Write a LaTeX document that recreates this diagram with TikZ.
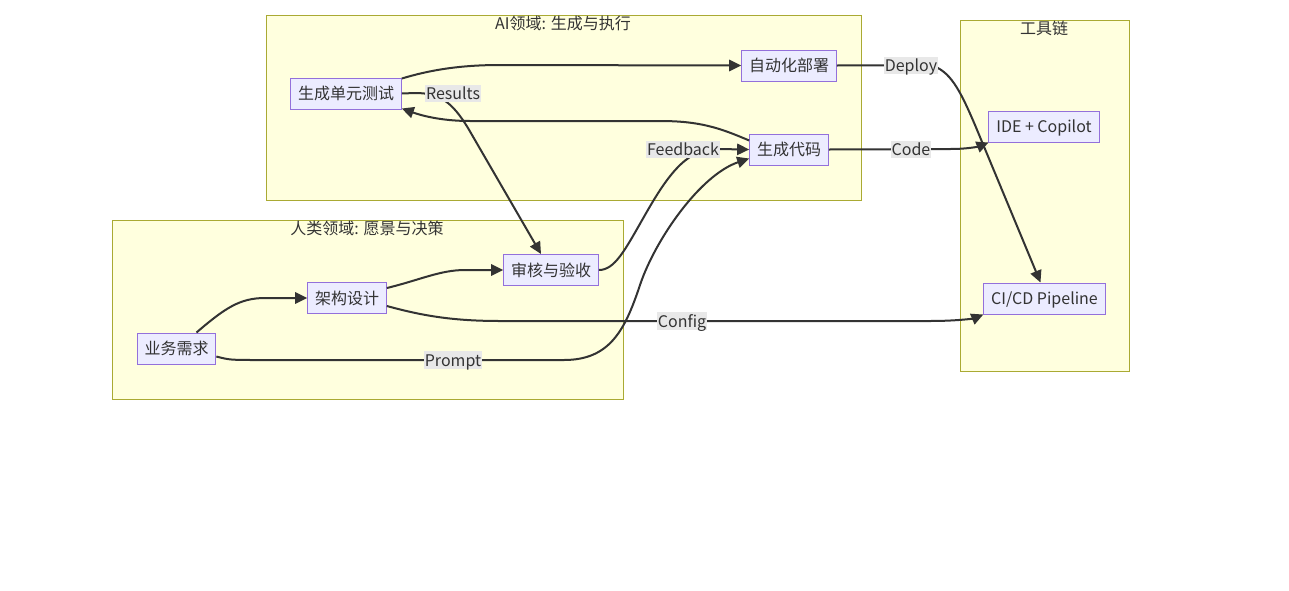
\documentclass[tikz,border=0pt]{standalone}
\usepackage{fontspec}
\setmainfont{Noto Sans CJK SC}
\usetikzlibrary{arrows.meta,calc}
\definecolor{clfill}{HTML}{FFFFDE}
\definecolor{cldraw}{HTML}{AAAA33}
\definecolor{nfill}{HTML}{ECECFF}
\definecolor{ndraw}{HTML}{9370DB}
\definecolor{ink}{HTML}{333333}
\definecolor{lblbg}{HTML}{E8E8E8}
\tikzset{
  box/.style={draw=ndraw, fill=nfill, line width=0.75pt, minimum height=23.25pt, inner xsep=5.5pt, text height=11pt, text depth=2pt, text=ink},
  cluster/.style={draw=cldraw, fill=clfill, line width=0.75pt},
  ctitle/.style={text=ink},
  elabel/.style={fill=lblbg, inner sep=0.5pt, text height=10.5pt, text depth=1.5pt, text=ink},
  link/.style={draw=ink, line width=1.5pt, ->},
}

\begin{document}
\begin{tikzpicture}[x=0.75pt, y=-0.75pt, >={Triangle[length=9pt,width=8.5pt]}, font=\fontsize{12pt}{14pt}\selectfont]
\fill[white] (0,0) rectangle (1289,590);
\useasboundingbox (0,0) rectangle (1289,590);
% subgraphs
\draw[cluster] (266,15) rectangle (861,200);
\node[ctitle] (tAI) at (563,23) {AI领域: 生成与执行};
\draw[cluster] (112,220) rectangle (623,399);
\node[ctitle] (tHuman) at (367,228) {人类领域: 愿景与决策};
\draw[cluster] (960,20) rectangle (1129,371);
\node[ctitle] (tTools) at (1044,28) {工具链};
% AI side
\node[box] (ut) at (346,93.5) {生成单元测试};
\node[box] (dep) at (789,65.5) {自动化部署};
\node[box] (gen) at (789,149.5) {生成代码};
% human side
\node[box] (rv) at (551,270) {审核与验收};
\node[box] (arch) at (347,298) {架构设计};
\node[box] (req) at (176.5,348.5) {业务需求};
% toolchain
\node[box] (ide) at (1044,126.5) {IDE + Copilot};
\node[box] (cicd) at (1044.5,298.5) {CI/CD Pipeline};
% human flow
\draw[link] ($(req.north)+(20,0)$) .. controls (225,308) and (240,298) .. (265,298) -- (arch.west);
\draw[link] ($(arch.east)+(0,-10)$) .. controls (420,280) and (440,270) .. (465,270) -- (rv.west);
\draw[link] ($(req.east)+(0,8)$) .. controls (230,360) .. (260,360) -- (564,360) .. controls (610,360) and (625,330) .. (640,285) .. controls (655,240) and (700,175) .. ($(gen.west)+(0,9)$);
\draw[link] (rv.east) .. controls (615,270) and (625,250) .. (645,215) .. controls (665,180) and (685,149) .. (715,149) -- (gen.west);
% AI flow
\draw[link] (ut.east) -- (415,93) .. controls (440,93) and (452,102) .. (468,128) -- ($(rv.north)+(-10,0)$);
\draw[link] ($(gen.west)+(0,-9)$) .. controls (720,128) and (700,121) .. (660,121) -- (470,121) .. controls (440,121) and (420,115) .. ($(ut.east)+(0,15)$);
\draw[link] ($(ut.east)+(0,-15)$) .. controls (430,70) and (460,65) .. (500,65) -- (dep.west);
% into the toolchain
\draw[link] (gen.east) -- (950,149) .. controls (970,149) and (980,146) .. (ide.south west);
\draw[link] (dep.east) -- (930,65) .. controls (950,70) and (960,90) .. (975,125) -- ($(cicd.north)+(-4,0)$);
\draw[link] ($(arch.east)+(0,8)$) .. controls (420,315) and (450,321) .. (500,321) -- (930,321) .. controls (960,321) and (975,318) .. (cicd.south west);
% edge labels
\node[elabel] (lRes) at (453,93.5) {Results};
\node[elabel] (lFb) at (683,149.5) {Feedback};
\node[elabel] (lPr) at (453,360) {Prompt};
\node[elabel] (lCfg) at (682,321) {Config};
\node[elabel] (lCode) at (911,149.5) {Code};
\node[elabel] (lDep) at (911,65.5) {Deploy};
\end{tikzpicture}
\end{document}
